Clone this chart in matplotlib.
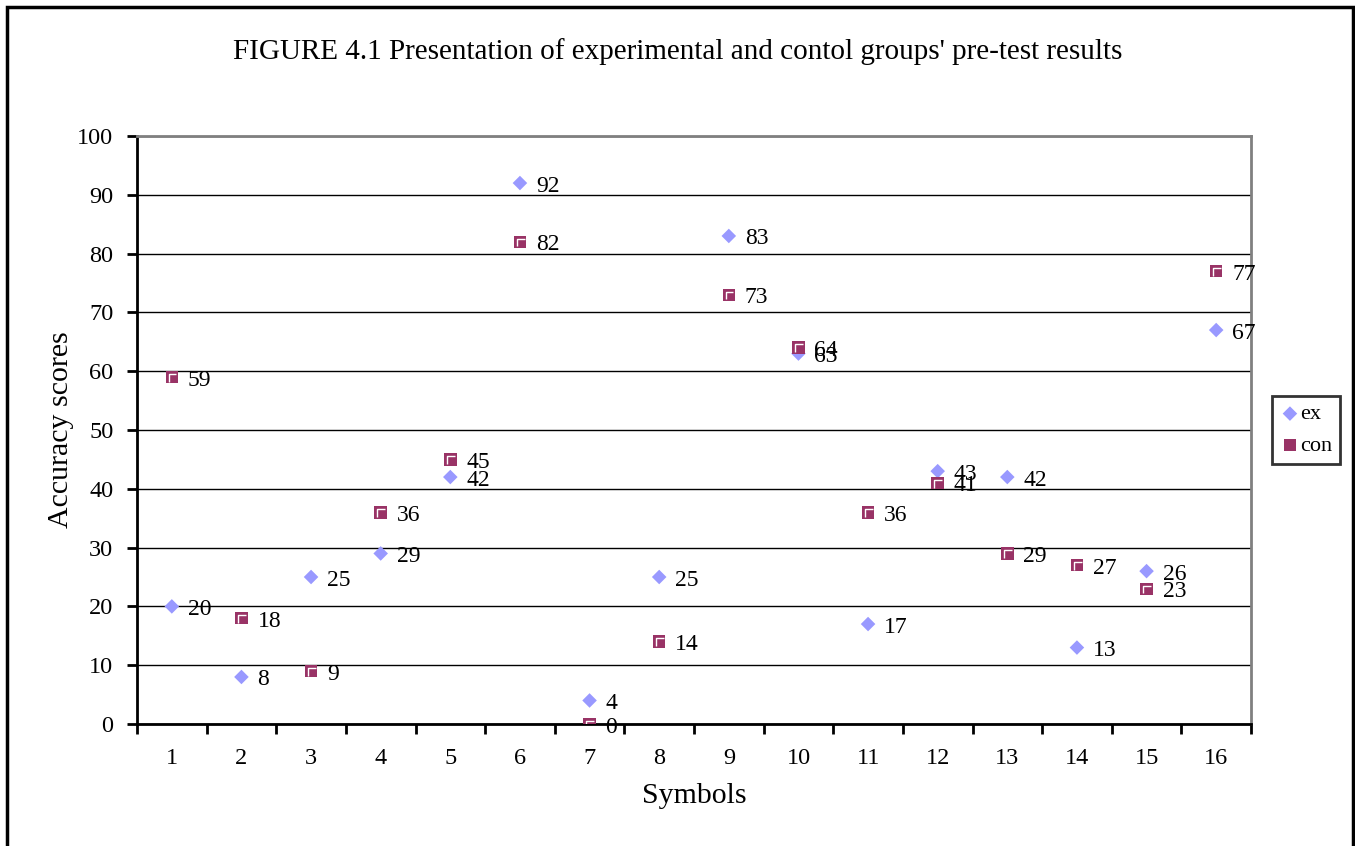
import matplotlib
matplotlib.use('Agg')
from matplotlib import pyplot as plt
from matplotlib.path import Path
from matplotlib.patches import Rectangle

plt.rcParams['font.family'] = ['Liberation Serif', 'DejaVu Serif']

# 数据
symbols = list(range(1, 17))
ex_scores = [20, 8, 25, 29, 42, 92, 4, 25, 83, 63, 17, 43, 42, 13, 26, 67]
con_scores = [59, 18, 9, 36, 45, 82, 0, 14, 73, 64, 36, 41, 29, 27, 23, 77]

ex_color = '#9999FF'
con_color = '#993366'

fig = plt.figure(figsize=(13.55, 8.46), dpi=100)
ax = fig.add_axes([137 / 1355, 122 / 846, 1114 / 1355, 588 / 846])

# 外框
fig.patches.append(Rectangle((7 / 1355, -0.05), 1346 / 1355, 1.05 - 7 / 846,
                             transform=fig.transFigure, fill=False,
                             edgecolor='black', linewidth=2.5))

# 方块里的白色折线
corner = Path([(-0.35, -0.5), (-0.35, 0.35), (0.5, 0.35)],
              [Path.MOVETO, Path.LINETO, Path.LINETO])

ax.scatter(symbols, ex_scores, marker='D', s=55, color=ex_color,
           edgecolors='none', zorder=3, label='ex')
ax.scatter(symbols, con_scores, marker='s', s=80, color=con_color,
           edgecolors='none', zorder=4, label='con')
ax.scatter(symbols, con_scores, marker=corner, s=44, facecolors='none',
           edgecolors='white', linewidths=1.0, zorder=5)

for x, y in zip(symbols, ex_scores):
    ax.annotate(str(y), (x, y), xytext=(16, -3), textcoords='offset pixels',
                va='center', ha='left', fontsize=17)
for x, y in zip(symbols, con_scores):
    ax.annotate(str(y), (x, y), xytext=(16, -3), textcoords='offset pixels',
                va='center', ha='left', fontsize=17)

ax.set_xlim(0.5, 16.5)
ax.set_ylim(0, 100)
ax.set_yticks(range(0, 101, 10))
ax.set_xticks(symbols)
ax.set_xticks([i + 0.5 for i in range(0, 17)], minor=True)
ax.tick_params(axis='x', which='major', length=0, pad=17, labelsize=17.5)
ax.tick_params(axis='x', which='minor', length=7, width=2, direction='out')
ax.tick_params(axis='y', length=7, width=2, direction='out', labelsize=17.5, pad=10)

ax.grid(axis='y', color='black', linewidth=1)
ax.set_axisbelow(True)
ax.spines['left'].set_linewidth(2)
ax.spines['bottom'].set_linewidth(2)
ax.spines['top'].set_color('#808080')
ax.spines['right'].set_color('#808080')
ax.spines['top'].set_linewidth(2)
ax.spines['right'].set_linewidth(2)

ax.set_xlabel('Symbols', fontsize=21.5, labelpad=10)
ax.set_ylabel('Accuracy scores', fontsize=21.5, labelpad=2)
fig.text(0.5, 1 - 52 / 846, "FIGURE 4.1 Presentation of experimental and contol groups' pre-test results",
         ha='center', va='center', fontsize=21)

leg = ax.legend(loc='center left', bbox_to_anchor=(1.019, 0.5), frameon=True,
                fancybox=False, edgecolor='black', fontsize=16, handletextpad=0.0,
                handlelength=0.9, borderpad=0.35, labelspacing=0.5, borderaxespad=0,
                markerscale=1.0)
leg.get_frame().set_linewidth(2)

plt.savefig('out.png', dpi=100)
